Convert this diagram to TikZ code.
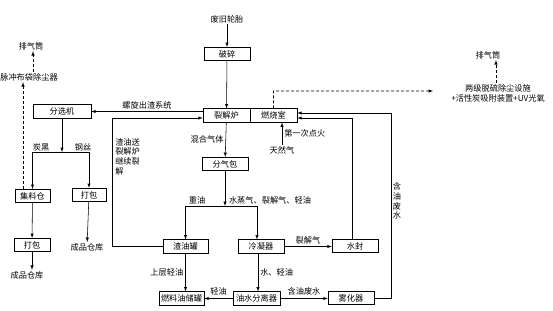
\documentclass[tikz,border=0pt]{standalone}
\usepackage{fontspec}
\setmainfont{Noto Sans CJK SC}
\usepackage{tikz}
\usetikzlibrary{calc, positioning}

\begin{document}
\begin{tikzpicture}[>=latex, x=1pt, y=-1pt, line width=0.55pt,
    every node/.style={font=\fontsize{8.2}{9.8}\selectfont, inner sep=1pt},
    box/.style={draw, minimum width=46pt, minimum height=13.5pt, inner sep=0pt},
    dash line/.style={dashed, dash pattern=on 3pt off 2pt}]
    \useasboundingbox (0,0) rectangle (553,310);

    % Các khối chính
    \node (feijiu) at (227,19) {废旧轮胎};
    \node[box] (posui) at (227,54) {破碎};
    \node[box, minimum width=47pt] (liejie) at (226.5,115.5) {裂解炉};
    \node[box, minimum width=47pt] (ranshao) at (273.5,115.5) {燃烧室};
    \node[box] (fenqi) at (225,164) {分气包};
    \node[box, minimum width=45pt] (zhayou) at (185.5,246.5) {渣油罐};
    \node[box] (lengning) at (261,246.5) {冷凝器};
    \node[box] (shuifeng) at (355,246) {水封};
    \node[box, minimum width=45pt] (ranliao) at (181.5,298.5) {燃料油储罐};
    \node[box, minimum width=47pt] (youshui) at (256.5,298.5) {油水分离器};
    \node[box] (wuhua) at (351,298) {雾化器};
    \node[box, minimum width=58pt] (fenxuan) at (62,111.5) {分选机};
    \node[box, minimum width=35pt] (jiliao) at (32.5,196) {集料仓};
    \node[box, minimum width=34pt] (dabaoA) at (89,195) {打包};
    \node[box, minimum width=36pt] (dabaoB) at (32,245) {打包};

    % Khí thải
    \node (paiqiA) at (31,46) {排气筒};
    \node (maichong) at (29,77) {脉冲布袋除尘器};
    \node (paiqiB) at (488,55) {排气筒};
    \node[align=center] (liangji) at (498,93) {两级脱硫除尘设施\\+活性炭吸附装置+UV光氧};
    \node (tianran) at (282,150) {天然气};
    \node (chengpinA) at (87,247) {成品仓库};
    \node (chengpinB) at (27,275) {成品仓库};
    \coordinate (gasout) at (433,91);

    % Đường nối
    \draw[->] (feijiu) -- (posui);
    \draw[->] (posui) -- (liejie);
    \draw[->] (liejie.west |- fenxuan.east) -- (fenxuan.east)
        node[midway, above=1pt] {螺旋出渣系统};
    \draw[->] (zhayou.west) -- ++(-50,0) |- ([yshift=-2.5pt]liejie.west);
    \node[anchor=north west, align=left] (zhalabel) at (114,137) {渣油送\\裂解炉\\继续裂\\解};
    \draw[->] (liejie) -- (fenqi) node[midway, left=1pt] {混合气体};

    \coordinate (split) at (225,206);
    \draw[->] (fenqi) -- (split);
    \draw (zhayou.north |- split) -- ([xshift=-4pt]lengning.north |- split);
    \draw[->] (zhayou.north |- split) -- (zhayou.north);
    \draw[->] ([xshift=-4pt]lengning.north |- split) -- ([xshift=-4pt]lengning.north);
    \node (zhongyou) at (197,200) {重油};
    \node (shuizheng) at (270,200) {水蒸气、裂解气、轻油};

    \draw[->] (lengning.east) -- (lengning.east -| shuifeng.west)
        node[midway, above=1pt] {裂解气};
    \draw[->] ([xshift=-3pt]lengning.south) -- ([xshift=-3pt]lengning.south |- youshui.north)
        node[midway, right=1pt] {水、轻油};
    \draw[->] (zhayou.south) -- (zhayou.south |- ranliao.north)
        node[midway, left=1pt] {上层轻油};
    \draw[->] (youshui.west) -- (ranliao.east) node[midway, above=2pt] {轻油};
    \draw[->] (youshui.east) -- (youshui.east -| wuhua.west) node[midway, above=2pt] {含油废水};
    \draw[->] (wuhua.east) -- ++(17,0) |- ([yshift=2.5pt]ranshao.east);
    \draw[->] ([xshift=-3pt]shuifeng.north) |- ([yshift=-2.5pt]ranshao.east);
    \node[align=center] (hanyou) at (397,201) {含\\油\\废\\水};
    \draw[->] (tianran.north) -- (tianran.north |- ranshao.south)
        node[midway, right=1pt] {第一次点火};

    % Đường khí thải (nét đứt)
    \draw[->, dash line] (ranshao.north) -- ++(0,-17.5) -- (gasout);
    \draw[->, dash line] ([xshift=-2pt]liangji.north) -- ([xshift=8pt]paiqiB.south);

    \coordinate (fenjie) at (62,152);
    \draw[->] (fenxuan.south) -- (fenjie);
    \draw (jiliao.north |- fenjie) -- (dabaoA.north |- fenjie);
    \draw[->] (jiliao.north |- fenjie) -- (jiliao.north);
    \draw[->] (dabaoA.north |- fenjie) -- (dabaoA.north);
    \node (tanhei) at (41,147) {炭黑};
    \node (gangsi) at (83,147) {钢丝};
    \draw[->] (dabaoA) -- (chengpinA);
    \draw[->] (jiliao) -- (dabaoB);
    \draw[->] (dabaoB) -- (dabaoB.south |- chengpinB.north);
    \draw[->, dash line] ([xshift=-9.5pt]jiliao.north) -- ([xshift=-9.5pt]jiliao.north |- maichong.south);
    \draw[->, dash line] ([xshift=4pt]maichong.north) -- ([xshift=4pt]maichong.north |- paiqiA.south);
\end{tikzpicture}
\end{document}
